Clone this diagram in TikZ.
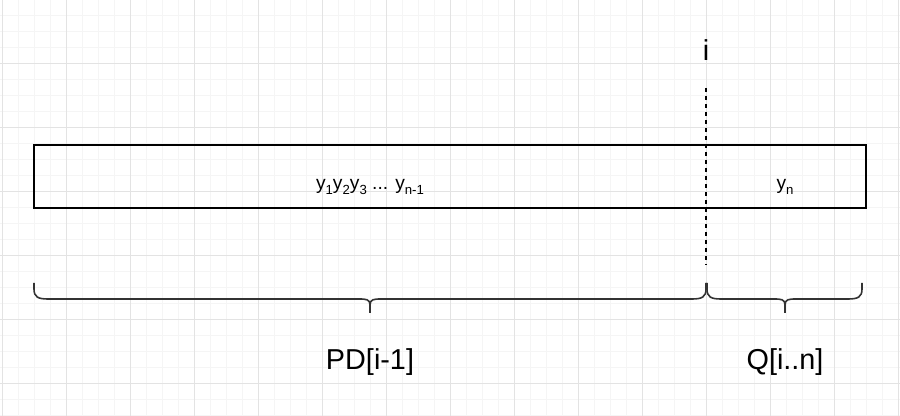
\documentclass[tikz,border=0pt]{standalone}
\usepackage{fontspec}
\setmainfont{Liberation Sans}
\usetikzlibrary{positioning, calc}
\newcommand{\lowidx}[1]{\raisebox{-0.45ex}{\fontsize{6.6}{7}\selectfont #1}}

\begin{document}
\begin{tikzpicture}[x=0.5pt, y=-0.5pt]
    \tikzstyle{minorline} = [draw=black!4, line width=0.5pt];
    \tikzstyle{majorline} = [draw=black!11, line width=0.5pt];
    \tikzstyle{cell} = [draw, line width=0.8pt, inner sep=0pt];
    \tikzstyle{entry} = [font=\fontsize{9.6}{11}\selectfont, inner sep=0pt];
    \tikzstyle{label} = [font=\fontsize{14.4}{16}\selectfont, inner sep=0pt];
    \tikzstyle{bracket} = [draw=black!80, line width=0.8pt];

    \useasboundingbox (0,0) rectangle (900,416);
    \fill[white] (0,0) rectangle (900,416);

    % grid
    \foreach \x in {2,18,...,898} \draw[minorline] (\x,0) -- (\x,416);
    \foreach \y in {0,16,...,416} \draw[minorline] (0,\y) -- (900,\y);
    \foreach \x in {2,66,...,898} \draw[majorline] (\x,0) -- (\x,416);
    \foreach \y in {0,64,...,384} \draw[majorline] (0,\y) -- (900,\y);

    % the sequence
    \node[cell, minimum width=416pt, minimum height=31.5pt] (row) at (450,176.5) {};
    \node[entry] (prefix) at (370,187) {y\lowidx{1}y\lowidx{2}y\lowidx{3} ... y\lowidx{n-1}};
    \node[entry] (last) at (785,187) {y\lowidx{n}};

    % split position
    \node[label] (pos) at (706,50) {i};
    \coordinate (cut top) at (706,88);
    \coordinate (cut bottom) at (706,265);
    \draw[line width=0.8pt, dash pattern=on 2.2pt off 1.8pt] (cut top) -- (cut bottom);

    % braces
    \draw[bracket] (34,283) -- (34,289) .. controls (34,297) and (38,299) .. (48,299)
        -- (358,299) .. controls (366,299) and (370,299) .. (370,305) -- (370,313)
        (370,305) .. controls (370,299) and (374,299) .. (382,299)
        -- (692,299) .. controls (702,299) and (706,297) .. (706,289) -- (706,283);
    \draw[bracket] (707,283) -- (707,289) .. controls (707,297) and (711,299) .. (721,299)
        -- (773,299) .. controls (781,299) and (785,299) .. (785,305) -- (785,313)
        (785,305) .. controls (785,299) and (789,299) .. (797,299)
        -- (848,299) .. controls (858,299) and (862,297) .. (862,289) -- (862,283);

    \node[label] (left part) at (370,362) {PD[i-1]};
    \node[label] (right part) at (785,362) {Q[i..n]};
\end{tikzpicture}
\end{document}
